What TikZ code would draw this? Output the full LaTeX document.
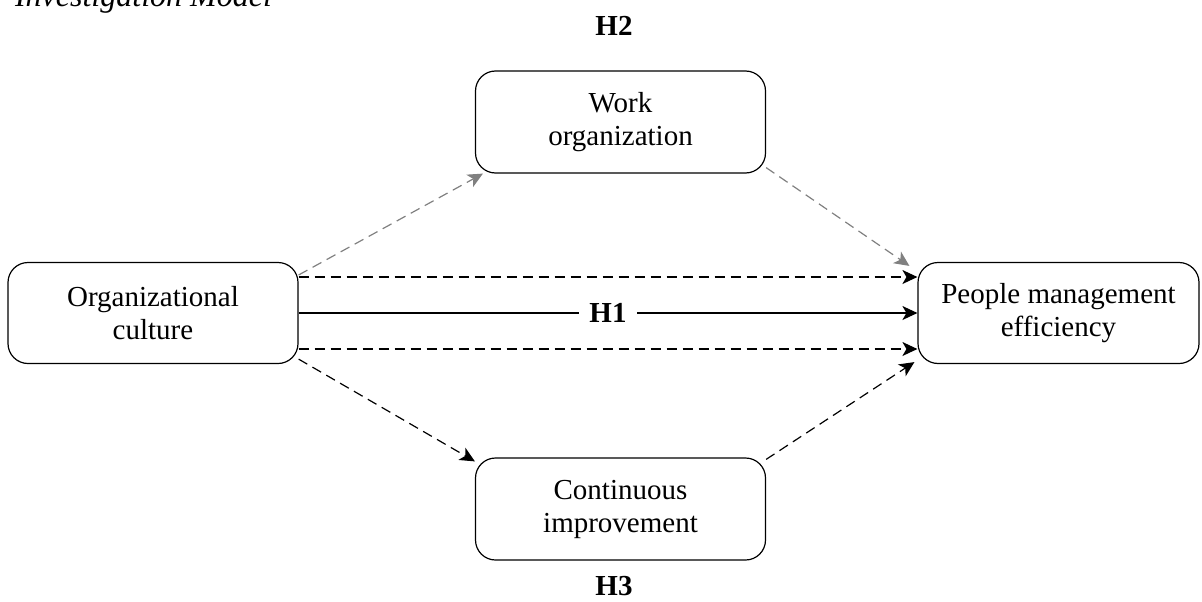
\documentclass[tikz,border=0pt]{standalone}
\usepackage{fontspec}
\setmainfont{Liberation Serif}
\usetikzlibrary{arrows.meta}

\tikzset{
  box/.style={draw,rounded corners=10pt,line width=0.6pt,align=center,
    minimum width=145pt,minimum height=50.5pt,inner sep=2pt},
  link/.style={line width=0.6pt,-{Stealth[length=7.5pt,width=7pt,inset=2pt]}},
  dashlink/.style={link,dash pattern=on 5pt off 3pt},
  hyp/.style={font=\fontsize{14.5}{16.5}\selectfont\bfseries}
}

\begin{document}
\begin{tikzpicture}[x=0.5pt,y=0.5pt,font=\fontsize{14.5}{16.5}\selectfont]
    \useasboundingbox (0,0) rectangle (1202,601);
    \node[anchor=base west,font=\fontsize{16}{18}\selectfont\itshape] (title) at (8,594) {Investigation Model};
    %
    \node[box] (oc) at (153,288) {Organizational\\culture};
    \node[box,minimum width=140.5pt] (pme) at (1058.5,288) {People management\\efficiency};
    \node[box,minimum height=51pt] (wo) at (620.5,479) {Work\\organization};
    \node[box,minimum height=51pt] (ci) at (620.5,92) {Continuous\\improvement};
    %
    \node[hyp] (h2) at (614,575) {H2};
    \node[hyp] (h3) at (614,15) {H3};
    %
    \draw[dashlink] ([yshift=18pt]oc.east) -- ([yshift=18pt]pme.west);
    \draw[link] (oc.east) -- node[hyp,fill=white,inner xsep=5pt] (h1) {H1} (pme.west);
    \draw[dashlink] ([yshift=-18pt]oc.east) -- ([yshift=-18pt]pme.west);
    %
    \draw[dashlink,gray] ([yshift=19pt]oc.east) -- ([xshift=4pt]wo.south west);
    \draw[dashlink,gray] ([yshift=3pt]wo.south east) -- ([xshift=-4pt,yshift=-2pt]pme.north west);
    \draw[dashlink] ([yshift=2.5pt]oc.south east) -- ([yshift=-2pt]ci.north west);
    \draw[dashlink] ([yshift=-1pt]ci.north east) -- ([xshift=-1.5pt,yshift=1pt]pme.south west);
\end{tikzpicture}
\end{document}
